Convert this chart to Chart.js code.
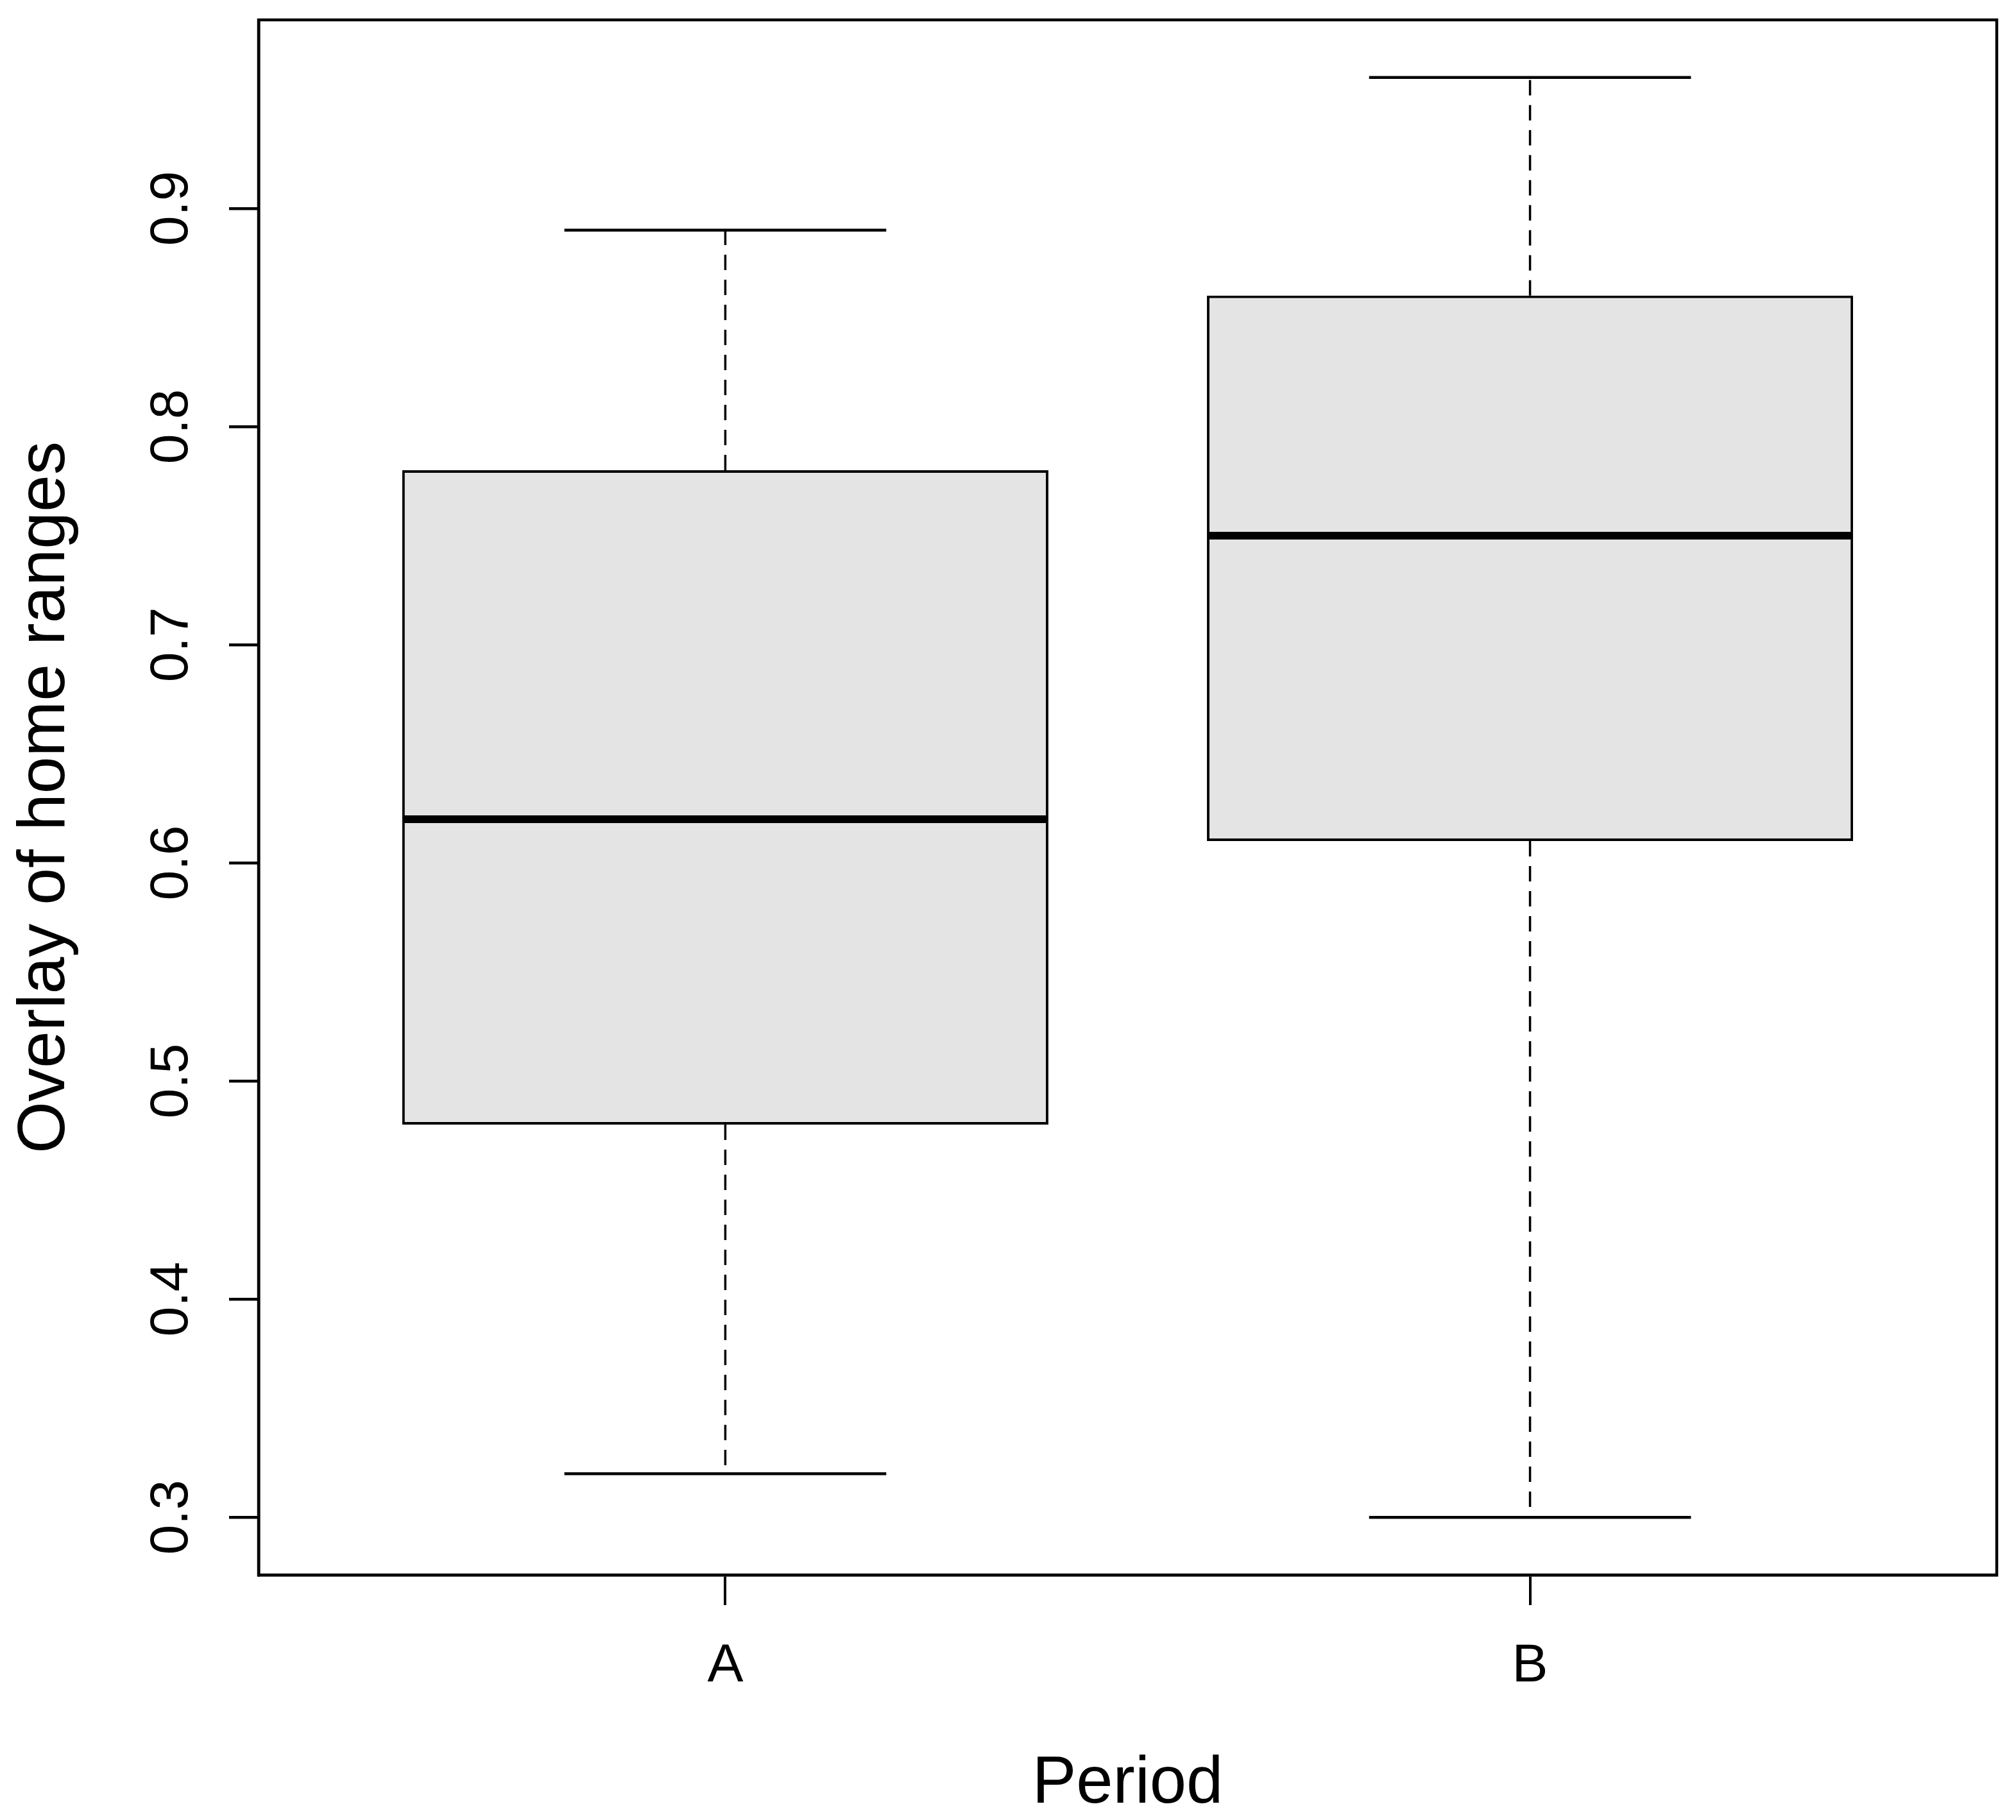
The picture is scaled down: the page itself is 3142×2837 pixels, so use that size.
<!DOCTYPE html>
<html>
<head>
<meta charset="utf-8">
<script src="https://cdn.jsdelivr.net/npm/chart.js@4.4.0/dist/chart.umd.min.js"></script>
<style>
  html, body { margin: 0; padding: 0; background: #fff; }
  #wrap { width: 3142px; height: 2837px; }
</style>
</head>
<body>
<div id="wrap"><canvas id="chart"></canvas></div>
<script>
const categories = ["A", "B"];
const whiskerLow = [0.32, 0.30];
const quartile1 = [0.48, 0.61];
const medians = [0.62, 0.75];
const quartile3 = [0.78, 0.86];
const whiskerHigh = [0.89, 0.96];
const yTicks = [0.3, 0.4, 0.5, 0.6, 0.7, 0.8, 0.9];
const yTickLabels = ["0.3", "0.4", "0.5", "0.6", "0.7", "0.8", "0.9"];

const BOX_HALF = 0.4;
const CAP_HALF = 0.2;
const FONT = "'Liberation Sans', Arial, sans-serif";

const pos = categories.map((c, i) => i + 1);

function segment(x0, y0, x1, y1, style) {
  return Object.assign({
    type: "line",
    data: [{ x: x0, y: y0 }, { x: x1, y: y1 }],
    borderColor: "#000",
    pointRadius: 0,
    fill: false,
    tension: 0
  }, style);
}

const datasets = [];
pos.forEach((x, i) => {
  datasets.push(segment(x - BOX_HALF, medians[i], x + BOX_HALF, medians[i], { borderWidth: 12, order: 0 }));
  const dash = { borderWidth: 3.5, borderDash: [24, 15], order: 1 };
  datasets.push(segment(x, quartile1[i], x, whiskerLow[i], dash));
  datasets.push(segment(x, quartile3[i], x, whiskerHigh[i], dash));
  datasets.push(segment(x - CAP_HALF, whiskerLow[i], x + CAP_HALF, whiskerLow[i], { borderWidth: 4.5, order: 1 }));
  datasets.push(segment(x - CAP_HALF, whiskerHigh[i], x + CAP_HALF, whiskerHigh[i], { borderWidth: 4.5, order: 1 }));
});
datasets.push({
  type: "bar",
  data: pos.map((x, i) => ({ x: x, y: [quartile1[i], quartile3[i]] })),
  backgroundColor: "rgb(228,228,228)",
  borderColor: "#000",
  borderWidth: 4,
  borderSkipped: false,
  barPercentage: 0.803,
  categoryPercentage: 1,
  order: 2
});

// box round the plot region, like R's default frame
const frame = {
  id: "frame",
  afterDatasetsDraw(chart) {
    const { ctx, chartArea: a } = chart;
    ctx.save();
    ctx.strokeStyle = "#000";
    ctx.lineWidth = 4.5;
    ctx.strokeRect(a.left, a.top, a.right - a.left, a.bottom - a.top);
    ctx.restore();
  }
};

new Chart(document.getElementById("chart"), {
  type: "bar",
  data: { datasets },
  plugins: [frame],
  options: {
    responsive: true,
    maintainAspectRatio: false,
    animation: false,
    layout: { padding: { top: 31, right: 30, bottom: 0, left: 0 } },
    plugins: { legend: { display: false }, tooltip: { enabled: false } },
    scales: {
      x: {
        type: "linear",
        min: 0.42,
        max: 2.58,
        offset: false,
        afterBuildTicks: (s) => { s.ticks = pos.map((v) => ({ value: v })); },
        afterFit: (s) => { s.height = 382; s.paddingLeft = 0; s.paddingRight = 0; },
        ticks: {
          callback: (v, i) => categories[i],
          color: "#000",
          font: { family: FONT, size: 84 },
          padding: 45,
          maxRotation: 0,
          autoSkip: false
        },
        grid: { offset: false, drawOnChartArea: false, tickLength: 47, color: "#000", lineWidth: 4 },
        border: { color: "#000", width: 4.5 },
        title: {
          display: true,
          text: "Period",
          color: "#000",
          font: { family: FONT, size: 103, lineHeight: 1 },
          padding: { top: 0, bottom: 4 }
        }
      },
      y: {
        type: "linear",
        min: 0.2736,
        max: 0.9864,
        afterBuildTicks: (s) => { s.ticks = yTicks.map((v) => ({ value: v })); },
        afterFit: (s) => { s.width = 403; s.paddingTop = 0; s.paddingBottom = 0; },
        ticks: {
          callback: (v, i) => yTickLabels[i],
          color: "#000",
          font: { family: FONT, size: 84 },
          minRotation: 90,
          maxRotation: 90,
          crossAlign: "center",
          padding: 30,
          autoSkip: false
        },
        grid: { drawOnChartArea: false, tickLength: 46, color: "#000", lineWidth: 4.5 },
        border: { color: "#000", width: 4.5 },
        title: {
          display: true,
          text: "Overlay of home ranges",
          color: "#000",
          font: { family: FONT, size: 104, lineHeight: 1 },
          padding: { top: 19, bottom: 0 }
        }
      }
    }
  }
});
</script>
</body>
</html>
